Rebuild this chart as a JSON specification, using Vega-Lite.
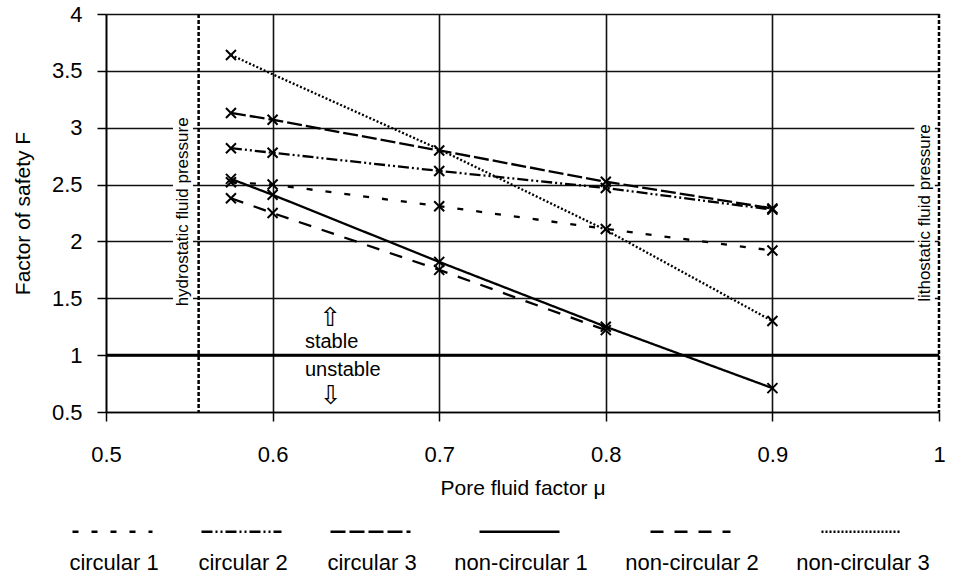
{
  "$schema": "https://vega.github.io/schema/vega-lite/v6.json",
  "width": 833,
  "height": 398,
  "autosize": {"type": "none"},
  "padding": {"left": 106, "top": 14, "right": 19, "bottom": 162},
  "background": "white",
  "config": {
    "view": {"stroke": null},
    "font": "Liberation Sans",
    "style": {"guide-label": {"lineHeight": 21}},
    "axis": {
      "labelFont": "Liberation Sans",
      "labelFontSize": 22,
      "labelColor": "black",
      "labelFlush": false,
      "titleFont": "Liberation Sans",
      "titleFontSize": 21,
      "titleFontWeight": "normal",
      "titleColor": "black",
      "domainColor": "black",
      "domainWidth": 1.6,
      "tickColor": "black",
      "tickWidth": 1.5,
      "tickSize": 9,
      "grid": true,
      "gridColor": "#111",
      "gridWidth": 1.6,
      "gridOpacity": 1
    }
  },
  "data": {
    "values": [
      {"series": "circular 1", "mu": 0.575, "F": 2.52},
      {"series": "circular 1", "mu": 0.6, "F": 2.5},
      {"series": "circular 1", "mu": 0.7, "F": 2.31},
      {"series": "circular 1", "mu": 0.8, "F": 2.11},
      {"series": "circular 1", "mu": 0.9, "F": 1.92},
      {"series": "circular 2", "mu": 0.575, "F": 2.82},
      {"series": "circular 2", "mu": 0.6, "F": 2.78},
      {"series": "circular 2", "mu": 0.7, "F": 2.62},
      {"series": "circular 2", "mu": 0.8, "F": 2.47},
      {"series": "circular 2", "mu": 0.9, "F": 2.28},
      {"series": "circular 3", "mu": 0.575, "F": 3.13},
      {"series": "circular 3", "mu": 0.6, "F": 3.07},
      {"series": "circular 3", "mu": 0.7, "F": 2.8},
      {"series": "circular 3", "mu": 0.8, "F": 2.525},
      {"series": "circular 3", "mu": 0.9, "F": 2.29},
      {"series": "non-circular 1", "mu": 0.575, "F": 2.55},
      {"series": "non-circular 1", "mu": 0.6, "F": 2.41},
      {"series": "non-circular 1", "mu": 0.7, "F": 1.82},
      {"series": "non-circular 1", "mu": 0.8, "F": 1.25},
      {"series": "non-circular 1", "mu": 0.9, "F": 0.71},
      {"series": "non-circular 2", "mu": 0.575, "F": 2.38},
      {"series": "non-circular 2", "mu": 0.6, "F": 2.25},
      {"series": "non-circular 2", "mu": 0.7, "F": 1.75},
      {"series": "non-circular 2", "mu": 0.8, "F": 1.22},
      {"series": "non-circular 3", "mu": 0.575, "F": 3.64},
      {"series": "non-circular 3", "mu": 0.6, "F": 3.47},
      {"series": "non-circular 3", "mu": 0.7, "F": 2.81},
      {"series": "non-circular 3", "mu": 0.8, "F": 2.1},
      {"series": "non-circular 3", "mu": 0.9, "F": 1.3}
    ]
  },
  "layer": [
    {
      "mark": {"type": "line", "color": "black", "strokeWidth": 2.3},
      "encoding": {
        "x": {
          "field": "mu", "type": "quantitative", "title": "Pore fluid factor μ",
          "scale": {"domain": [0.5, 1], "nice": false, "zero": false},
          "axis": {
            "values": [0.5, 0.6, 0.7, 0.8, 0.9, 1], "format": ".1~f",
            "labelPadding": 23, "titlePadding": 12, "grid": true,
            "gridOpacity": {"condition": {"test": "datum.value >= 0.99", "value": 0}, "value": 1}
          }
        },
        "y": {
          "field": "F", "type": "quantitative", "title": "Factor of safety F",
          "scale": {"domain": [0.5, 4], "nice": false, "zero": false},
          "axis": {
            "values": [0.5, 1, 1.5, 2, 2.5, 3, 3.5, 4], "format": ".1~f",
            "labelPadding": 15, "titlePadding": 18, "grid": true
          }
        },
        "strokeDash": {
          "field": "series", "type": "nominal",
          "scale": {"range": [[6, 13], [11, 3, 2, 3, 2, 3], [15, 4], [1, 0], [13, 11], [2, 2]]},
          "legend": {
            "orient": "none", "legendX": -35, "legendY": 476, "direction": "horizontal", "columns": 6,
            "title": null, "padding": 0,
            "symbolType": "stroke", "symbolSize": 6400, "symbolStrokeWidth": 2.5, "symbolStrokeColor": "black",
            "labelAlign": "center", "labelOffset": -40, "labelBaseline": "top",
            "labelExpr": "['', datum.label]",
            "labelFontSize": 22, "labelFont": "Liberation Sans", "labelColor": "black", "labelLimit": 300,
            "columnPadding": 37, "gridAlign": "each"
          }
        }
      }
    },
    {
      "data": {"values": [{}]},
      "mark": {"type": "rect", "fill": "white"},
      "encoding": {
        "x": {"datum": 0.5402, "type": "quantitative"},
        "x2": {"datum": 0.5522},
        "y": {"datum": 1.39, "type": "quantitative"},
        "y2": {"datum": 3.17}
      }
    },
    {
      "data": {"values": [{}]},
      "mark": {"type": "rect", "fill": "white"},
      "encoding": {
        "x": {"datum": 0.9852, "type": "quantitative"},
        "x2": {"datum": 0.9975},
        "y": {"datum": 1.39, "type": "quantitative"},
        "y2": {"datum": 3.17}
      }
    },
    {
      "data": {"values": [{}]},
      "mark": {"type": "rule", "color": "black", "strokeWidth": 2.5, "strokeDash": [4, 2]},
      "encoding": {"x": {"datum": 0.5556, "type": "quantitative"}}
    },
    {
      "data": {"values": [{}]},
      "mark": {"type": "rule", "color": "black", "strokeWidth": 2.5, "strokeDash": [4, 2]},
      "encoding": {"x": {"datum": 1, "type": "quantitative"}}
    },
    {
      "data": {"values": [{}]},
      "mark": {"type": "rule", "color": "black", "strokeWidth": 3},
      "encoding": {"y": {"datum": 1, "type": "quantitative"}}
    },
    {
      "data": {"values": [{}]},
      "mark": {"type": "text", "text": "hydrostatic fluid pressure", "angle": 270, "align": "center", "baseline": "middle", "fontSize": 17, "font": "Liberation Sans", "color": "black"},
      "encoding": {"x": {"datum": 0.5462, "type": "quantitative"}, "y": {"datum": 2.26, "type": "quantitative"}}
    },
    {
      "data": {"values": [{}]},
      "mark": {"type": "text", "text": "lithostatic fluid pressure", "angle": 270, "align": "center", "baseline": "middle", "fontSize": 17, "font": "Liberation Sans", "color": "black"},
      "encoding": {"x": {"datum": 0.9916, "type": "quantitative"}, "y": {"datum": 2.25, "type": "quantitative"}}
    },
    {
      "data": {"values": [{}]},
      "mark": {"type": "text", "text": "stable", "align": "left", "baseline": "middle", "fontSize": 20, "font": "Liberation Sans", "color": "black"},
      "encoding": {"x": {"datum": 0.6194, "type": "quantitative"}, "y": {"datum": 1.118, "type": "quantitative"}}
    },
    {
      "data": {"values": [{}]},
      "mark": {"type": "text", "text": "unstable", "align": "left", "baseline": "middle", "fontSize": 20, "font": "Liberation Sans", "color": "black"},
      "encoding": {"x": {"datum": 0.6194, "type": "quantitative"}, "y": {"datum": 0.869, "type": "quantitative"}}
    },
    {
      "data": {"values": [{}]},
      "mark": {"type": "text", "text": "⇧", "align": "center", "baseline": "middle", "fontSize": 26, "font": "DejaVu Sans", "fill": "black"},
      "encoding": {"x": {"datum": 0.6345, "type": "quantitative"}, "y": {"datum": 1.33, "type": "quantitative"}}
    },
    {
      "data": {"values": [{}]},
      "mark": {"type": "text", "text": "⇩", "align": "center", "baseline": "middle", "fontSize": 26, "font": "DejaVu Sans", "fill": "black"},
      "encoding": {"x": {"datum": 0.6349, "type": "quantitative"}, "y": {"datum": 0.645, "type": "quantitative"}}
    },
    {
      "transform": [{"filter": "datum.series != 'non-circular 3' || datum.mu == 0.575 || datum.mu == 0.9"}],
      "mark": {"type": "point", "shape": "M-1,-1L1,1M-1,1L1,-1", "color": "black", "strokeWidth": 2, "size": 100, "filled": false, "opacity": 1},
      "encoding": {
        "x": {"field": "mu", "type": "quantitative"},
        "y": {"field": "F", "type": "quantitative"},
        "detail": {"field": "series"}
      }
    }
  ]
}
